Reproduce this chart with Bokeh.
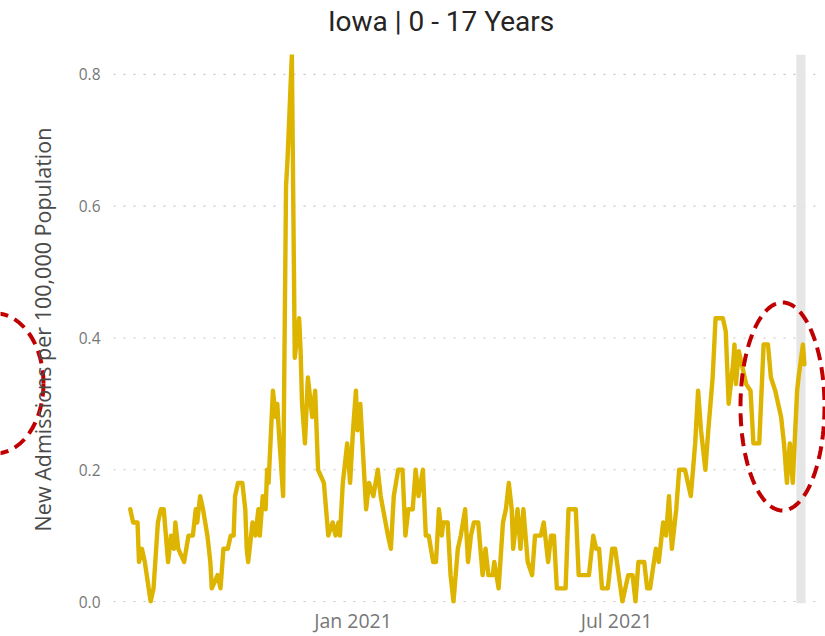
import math
import pandas as pd
from bokeh.plotting import figure
from bokeh.layouts import row, column
from bokeh.models import (Range1d, FixedTicker, DatetimeTickFormatter, BoxAnnotation,
                          PolyAnnotation, ColumnDataSource, NumeralTickFormatter)
from bokeh.core.properties import value
from bokeh.embed import file_html
from bokeh.resources import INLINE

# ---------------- data ----------------
dates = [
    "2020-08-01", "2020-08-03", "2020-08-06", "2020-08-07", "2020-08-09", "2020-08-11", "2020-08-15",
    "2020-08-17", "2020-08-20", "2020-08-22", "2020-08-24", "2020-08-27", "2020-08-29", "2020-08-31",
    "2020-09-01", "2020-09-03", "2020-09-07", "2020-09-10", "2020-09-13", "2020-09-15", "2020-09-16",
    "2020-09-18", "2020-09-20", "2020-09-23", "2020-09-25", "2020-09-26", "2020-09-30",
    "2020-10-02", "2020-10-04", "2020-10-07", "2020-10-09", "2020-10-11", "2020-10-12", "2020-10-14",
    "2020-10-17", "2020-10-19", "2020-10-20", "2020-10-21", "2020-10-24", "2020-10-26", "2020-10-28",
    "2020-10-29", "2020-10-31",
    "2020-11-02", "2020-11-03", "2020-11-04", "2020-11-07", "2020-11-09", "2020-11-10", "2020-11-11",
    "2020-11-14", "2020-11-16", "2020-11-17", "2020-11-20", "2020-11-22", "2020-11-25", "2020-11-26",
    "2020-11-27", "2020-11-29",
    "2020-12-01", "2020-12-04", "2020-12-06", "2020-12-08", "2020-12-12", "2020-12-15", "2020-12-18",
    "2020-12-20", "2020-12-22", "2020-12-23", "2020-12-25", "2020-12-28", "2020-12-30",
    "2021-01-01", "2021-01-03", "2021-01-04", "2021-01-06", "2021-01-08", "2021-01-10", "2021-01-12",
    "2021-01-15", "2021-01-18", "2021-01-20", "2021-01-25", "2021-01-27", "2021-01-29",
    "2021-02-01", "2021-02-04", "2021-02-06", "2021-02-08", "2021-02-11", "2021-02-13", "2021-02-15",
    "2021-02-18", "2021-02-20", "2021-02-22", "2021-02-25", "2021-02-27",
    "2021-03-01", "2021-03-03", "2021-03-04", "2021-03-07", "2021-03-09", "2021-03-11", "2021-03-14",
    "2021-03-16", "2021-03-19", "2021-03-21", "2021-03-23", "2021-03-25", "2021-03-28", "2021-03-31",
    "2021-04-02", "2021-04-04", "2021-04-07", "2021-04-08", "2021-04-11", "2021-04-14", "2021-04-16",
    "2021-04-18", "2021-04-20", "2021-04-21", "2021-04-24", "2021-04-26", "2021-04-28",
    "2021-05-01", "2021-05-04", "2021-05-06", "2021-05-10", "2021-05-12", "2021-05-15", "2021-05-17",
    "2021-05-19", "2021-05-21", "2021-05-27", "2021-05-29",
    "2021-06-03", "2021-06-05", "2021-06-12", "2021-06-15", "2021-06-17", "2021-06-19", "2021-06-21",
    "2021-06-25", "2021-06-28", "2021-06-30",
    "2021-07-05", "2021-07-09", "2021-07-12", "2021-07-14", "2021-07-16", "2021-07-20", "2021-07-22",
    "2021-07-24", "2021-07-28", "2021-07-30",
    "2021-08-02", "2021-08-04", "2021-08-06", "2021-08-08", "2021-08-11", "2021-08-13", "2021-08-17",
    "2021-08-21", "2021-08-24", "2021-08-26", "2021-08-28", "2021-08-31",
    "2021-09-02", "2021-09-05", "2021-09-07", "2021-09-12", "2021-09-14", "2021-09-16", "2021-09-19",
    "2021-09-20", "2021-09-21", "2021-09-23", "2021-09-24", "2021-09-28",
    "2021-10-01", "2021-10-03", "2021-10-07", "2021-10-10", "2021-10-13", "2021-10-15", "2021-10-18",
    "2021-10-22", "2021-10-24", "2021-10-26", "2021-10-28", "2021-10-30",
    "2021-11-02", "2021-11-03", "2021-11-06", "2021-11-07",
]

admissions = [
    0.14, 0.12, 0.12, 0.06, 0.08, 0.06, 0.00, 0.02, 0.12, 0.14, 0.14, 0.06, 0.10, 0.08,
    0.12, 0.08, 0.06, 0.10, 0.10, 0.14, 0.12, 0.16, 0.14, 0.10, 0.06, 0.02, 0.04,
    0.02, 0.08, 0.08, 0.10, 0.10, 0.16, 0.18, 0.18, 0.14, 0.08, 0.06, 0.12, 0.10, 0.14, 0.10, 0.16,
    0.14, 0.20, 0.18, 0.32, 0.28, 0.30, 0.26, 0.16, 0.63, 0.67, 0.83, 0.37, 0.43, 0.38, 0.30, 0.24,
    0.34, 0.28, 0.32, 0.20, 0.18, 0.10, 0.12, 0.10, 0.12, 0.10, 0.18, 0.24, 0.18,
    0.26, 0.32, 0.26, 0.30, 0.22, 0.14, 0.18, 0.16, 0.20, 0.16, 0.10, 0.08, 0.16,
    0.20, 0.20, 0.10, 0.14, 0.14, 0.20, 0.16, 0.20, 0.10, 0.10, 0.06, 0.06,
    0.14, 0.10, 0.12, 0.12, 0.04, 0.00, 0.08, 0.10, 0.14, 0.06, 0.10, 0.12, 0.12, 0.04,
    0.08, 0.04, 0.04, 0.06, 0.02, 0.12, 0.14, 0.18, 0.14, 0.08, 0.14, 0.08, 0.14,
    0.06, 0.04, 0.10, 0.10, 0.12, 0.06, 0.10, 0.10, 0.02, 0.02, 0.14,
    0.14, 0.04, 0.04, 0.10, 0.08, 0.08, 0.02, 0.02, 0.08, 0.08,
    0.00, 0.04, 0.04, 0.00, 0.06, 0.06, 0.02, 0.02, 0.08, 0.06,
    0.12, 0.10, 0.16, 0.08, 0.14, 0.20, 0.20, 0.16, 0.24, 0.32, 0.26, 0.20,
    0.26, 0.34, 0.43, 0.43, 0.41, 0.30, 0.36, 0.39, 0.33, 0.38, 0.37, 0.33,
    0.32, 0.24, 0.24, 0.39, 0.39, 0.34, 0.32, 0.28, 0.24, 0.18, 0.24, 0.18,
    0.32, 0.34, 0.39, 0.36,
]

x_ticks = ["2021-01-01", "2021-07-01"]
y_ticks = [0.0, 0.2, 0.4, 0.6, 0.8]
title_text = "Iowa | 0 - 17 Years"
y_label = "New Admissions per 100,000 Population"
highlight_start, highlight_end = "2021-11-01 12:00", "2021-11-07 18:00"
x_start, x_end = "2020-07-20 12:00", "2021-11-21 12:00"
grid_end = "2021-11-14 12:00"

# ---------------- layout constants (Bokeh's page template has no body margin) ----------------
W, H = 825, 636
S = 62          # left strip: y-axis title + left dashed ellipse
T = 40          # top strip: chart title
LINE = "#DDB400"
RED = "#C00000"


def pixel_figure(w, h):
    f = figure(width=w, height=h, output_backend="svg", toolbar_location=None,
               x_range=Range1d(0, w), y_range=Range1d(h, 0),
               x_axis_location=None, y_axis_location=None,
               min_border_left=0, min_border_right=0, min_border_top=0, min_border_bottom=0)
    f.outline_line_color = None
    f.xgrid.visible = False
    f.ygrid.visible = False
    return f


# ---------------- left strip ----------------
strip = pixel_figure(S, H)
strip.ellipse(x=[-5], y=[383], width=[96], height=[140], fill_alpha=0,
              line_color=RED, line_width=4, line_dash="13 7")
strip.text(x=[42], y=[329], text=[y_label], angle=math.pi / 2,
           text_align="center", text_baseline="middle",
           text_font=value("Open Sans"), text_font_size="21.5px", text_color="#4a4a4a")

# ---------------- top strip (title) ----------------
top = pixel_figure(W - S, T)
top.text(x=[413 - S], y=[21], text=[title_text], text_align="center", text_baseline="middle",
         text_font=value("Roboto"), text_font_size="28px", text_color="#252423")

# ---------------- main chart ----------------
src = ColumnDataSource(dict(date=pd.to_datetime(dates), value=admissions))

p = figure(width=W - S, height=H - T, x_axis_type="datetime", output_backend="svg",
           toolbar_location=None,
           x_range=Range1d(pd.Timestamp(x_start), pd.Timestamp(x_end)),
           y_range=Range1d(-0.00303, 0.8303),
           min_border_left=113 - S, min_border_right=0, min_border_top=54 - T,
           min_border_bottom=32)
p.outline_line_color = None
p.background_fill_color = "white"
p.border_fill_color = "white"

band = BoxAnnotation(left=pd.Timestamp(highlight_start), right=pd.Timestamp(highlight_end),
                     fill_color="#E6E6E6", fill_alpha=1.0, line_color=None, level="underlay")
p.add_layout(band)

# dotted horizontal grid lines (stop short of the right edge, as in the original)
p.xgrid.visible = False
p.ygrid.visible = False
p.segment(x0=[pd.Timestamp(x_start)] * len(y_ticks), x1=[pd.Timestamp(grid_end)] * len(y_ticks),
          y0=y_ticks, y1=y_ticks, line_color="#C4C4C4", line_dash="2 8", line_width=1.2,
          level="underlay")

p.line("date", "value", source=src, line_color=LINE, line_width=4.4, line_join="round",
       line_cap="round")

p.xaxis.ticker = FixedTicker(ticks=[pd.Timestamp(t).value // 10**6 for t in x_ticks])
p.xaxis.formatter = DatetimeTickFormatter(days="%b %Y", months="%b %Y", years="%b %Y")
p.yaxis.ticker = FixedTicker(ticks=y_ticks)
p.yaxis.formatter = NumeralTickFormatter(format="0.0")
for ax in (p.xaxis[0], p.yaxis[0]):
    ax.axis_line_color = None
    ax.major_tick_line_color = None
    ax.minor_tick_line_color = None
    ax.major_tick_out = 0
    ax.major_tick_in = 0
    ax.major_label_text_font = "Open Sans"
    ax.major_label_text_color = "#777777"
p.xaxis.major_label_text_font_size = "19.5px"
p.yaxis.major_label_text_font_size = "15.5px"
p.xaxis.major_label_standoff = 3
p.yaxis.major_label_standoff = 13


def ellipse_pts(cx, cy, a, b, n=160):
    xs, ys = [], []
    for i in range(n):
        t = 2 * math.pi * i / n
        xs.append(cx + a * math.cos(t))
        ys.append(cy + b * math.sin(t))
    return xs, ys


# right dashed ellipse: page pixel geometry -> main canvas (origin at page x=S, y=T)
ex, ey = ellipse_pts(782 - S, 406 - T, 42, 104)
p.add_layout(PolyAnnotation(xs=ex, ys=ey, xs_units="canvas", ys_units="canvas",
                            fill_alpha=0, line_color=RED, line_alpha=1.0, line_width=4,
                            line_dash="13 7", level="overlay"))

layout = row(strip, column(top, p))
open("out.html", "w").write(file_html(layout, INLINE))
